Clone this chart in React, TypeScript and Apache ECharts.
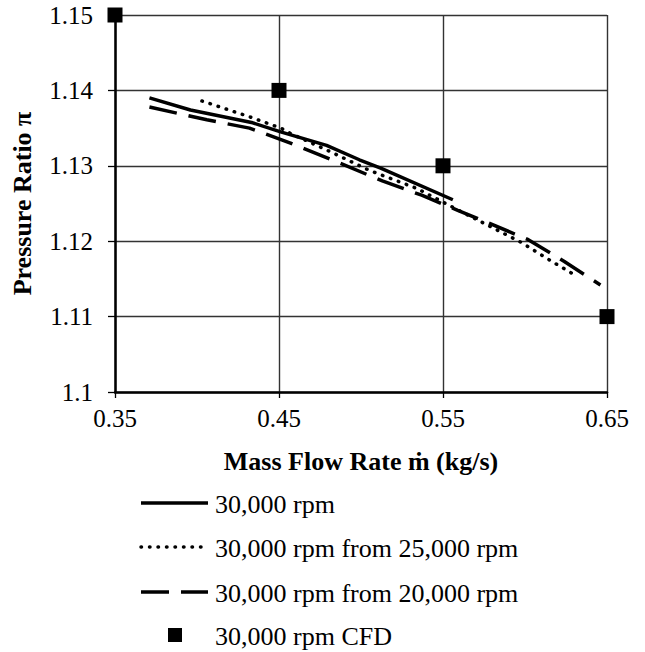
import React, { useEffect, useRef } from "react";
import * as echarts from "echarts";

const solidX = [0.371, 0.396, 0.434, 0.451, 0.479, 0.499, 0.512, 0.556];
const solidY = [1.139, 1.1374, 1.1357, 1.1345, 1.1327, 1.1308, 1.1297, 1.1255];

const dottedX = [0.403, 0.432, 0.451, 0.457, 0.481, 0.505, 0.534, 0.556, 0.581, 0.598, 0.615, 0.632];
const dottedY = [1.1386, 1.1365, 1.135, 1.1343, 1.1319, 1.1294, 1.127, 1.1245, 1.1217, 1.1198, 1.1175, 1.1153];

const dashedX = [0.371, 0.406, 0.432, 0.457, 0.481, 0.513, 0.537, 0.559, 0.578, 0.602, 0.624, 0.646];
const dashedY = [1.1378, 1.1361, 1.135, 1.133, 1.1309, 1.128, 1.1261, 1.1241, 1.1224, 1.1202, 1.1173, 1.1142];

const cfdX = [0.35, 0.45, 0.55, 0.65];
const cfdY = [1.15, 1.14, 1.13, 1.11];

const seriesNames = [
  "30,000 rpm",
  "30,000 rpm from 25,000 rpm",
  "30,000 rpm from 20,000 rpm",
  "30,000 rpm CFD",
];

const xTicks = ["0.35", "0.45", "0.55", "0.65"];
const yTicks = ["1.1", "1.11", "1.12", "1.13", "1.14", "1.15"];

const FONT = "'Liberation Serif', 'Times New Roman', serif";

const zip = (xs: number[], ys: number[]) => xs.map((x, i) => [x, ys[i]]);

const LW = 3.5;
const dottedDash = [0.5, 8];
const dashedDash = [28, 12];

export default function App() {
  const ref = useRef<HTMLDivElement>(null);
  useEffect(() => {
    if (!ref.current) return;
    const chart = echarts.init(ref.current, null, { renderer: "svg" });
    const rows = [503, 547, 592, 635];
    const dashes: (number[] | null)[] = [null, dottedDash, dashedDash];
    const legendGraphics: any[] = [];
    for (let i = 0; i < 3; i++) {
      legendGraphics.push({
        type: "line",
        shape: { x1: 141, y1: rows[i], x2: 208, y2: rows[i] },
        style: {
          stroke: "#000",
          lineWidth: LW,
          lineDash: dashes[i] ?? undefined,
          lineCap: i === 1 ? "round" : "butt",
        },
      });
    }
    legendGraphics.push({
      type: "rect",
      shape: { x: 168, y: rows[3] - 7, width: 14, height: 14 },
      style: { fill: "#000" },
    });
    for (let i = 0; i < 4; i++) {
      legendGraphics.push({
        type: "text",
        x: 215,
        y: rows[i] + 1,
        style: {
          text: seriesNames[i],
          fontFamily: FONT,
          fontSize: 26,
          fill: "#000",
          verticalAlign: "middle",
          align: "left",
        },
      });
    }
    chart.setOption({
      animation: false,
      backgroundColor: "#fff",
      grid: { left: 115, right: 38, top: 15, bottom: 260, containLabel: false },
      xAxis: {
        type: "value",
        min: 0.35,
        max: 0.65,
        interval: 0.1,
        name: "Mass Flow Rate ṁ (kg/s)",
        nameLocation: "middle",
        nameGap: 56,
        nameTextStyle: { fontFamily: FONT, fontSize: 26, fontWeight: "bold", color: "#000" },
        axisLine: { show: true, onZero: false, lineStyle: { color: "#000", width: 2.5 } },
        axisTick: { show: true, length: 6, lineStyle: { color: "#000", width: 1.3 } },
        axisLabel: {
          fontFamily: FONT,
          fontSize: 25,
          color: "#000",
          margin: 14,
          formatter: (v: number) => {
            const s = xTicks.find((t) => Math.abs(parseFloat(t) - v) < 1e-6);
            return s ?? "";
          },
        },
        splitLine: { show: true, lineStyle: { color: "#333", width: 1.4 } },
      },
      yAxis: {
        type: "value",
        min: 1.1,
        max: 1.15,
        interval: 0.01,
        name: "Pressure Ratio π",
        nameLocation: "middle",
        nameGap: 80,
        nameTextStyle: { fontFamily: FONT, fontSize: 26, fontWeight: "bold", color: "#000" },
        axisLine: { show: true, lineStyle: { color: "#000", width: 2.5 } },
        axisTick: { show: true, length: 7, lineStyle: { color: "#000", width: 1.3 } },
        axisLabel: {
          fontFamily: FONT,
          fontSize: 25,
          color: "#000",
          margin: 22,
          formatter: (v: number) => {
            const s = yTicks.find((t) => Math.abs(parseFloat(t) - v) < 1e-6);
            return s ?? "";
          },
        },
        splitLine: { show: true, lineStyle: { color: "#333", width: 1.4 } },
      },
      graphic: legendGraphics,
      series: [
        {
          name: seriesNames[0],
          type: "line",
          data: zip(solidX, solidY),
          showSymbol: false,
          symbol: "none",
          lineStyle: { color: "#000", width: LW, type: "solid" },
          itemStyle: { color: "#000" },
        },
        {
          name: seriesNames[1],
          type: "line",
          data: zip(dottedX, dottedY),
          showSymbol: false,
          symbol: "none",
          lineStyle: { color: "#000", width: LW, type: dottedDash, cap: "round" },
          itemStyle: { color: "#000" },
        },
        {
          name: seriesNames[2],
          type: "line",
          data: zip(dashedX, dashedY),
          showSymbol: false,
          symbol: "none",
          lineStyle: { color: "#000", width: LW, type: dashedDash },
          itemStyle: { color: "#000" },
        },
        {
          name: seriesNames[3],
          type: "scatter",
          data: zip(cfdX, cfdY),
          symbol: "rect",
          symbolSize: 15,
          itemStyle: { color: "#000", opacity: 1 },
          z: 5,
          clip: false,
        },
      ],
    });
    return () => chart.dispose();
  }, []);
  return (
    <div
      ref={ref}
      style={{ position: "fixed", left: 0, top: 0, width: 645, height: 652, background: "#fff" }}
    />
  );
}
